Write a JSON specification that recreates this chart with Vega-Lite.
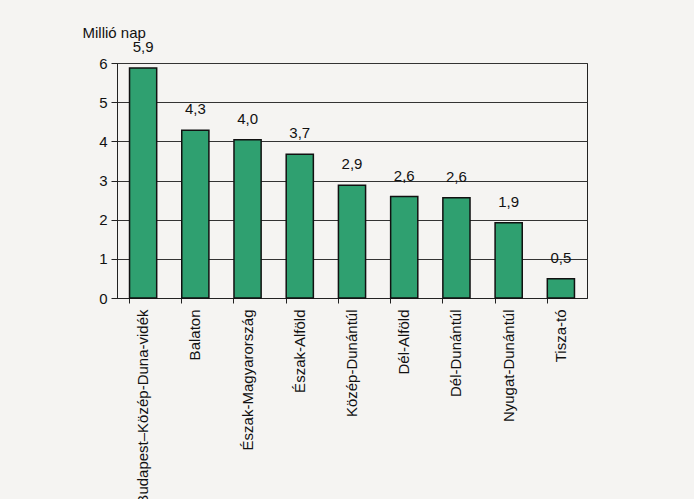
{
  "$schema": "https://vega.github.io/schema/vega-lite/v6.json",
  "autosize": "none",
  "width": 470,
  "height": 235,
  "padding": {"left": 117, "top": 63, "right": 107, "bottom": 201},
  "background": "#f5f4f2",
  "config": {
    "font": "Liberation Sans",
    "view": {"stroke": "#222", "strokeWidth": 1}
  },
  "data": {
    "values": [
      {"region": "Budapest–Közép-Duna-vidék", "value": 5.87, "label": "5,9"},
      {"region": "Balaton", "value": 4.28, "label": "4,3"},
      {"region": "Észak-Magyarország", "value": 4.04, "label": "4,0"},
      {"region": "Észak-Alföld", "value": 3.67, "label": "3,7"},
      {"region": "Közép-Dunántúl", "value": 2.88, "label": "2,9"},
      {"region": "Dél-Alföld", "value": 2.59, "label": "2,6"},
      {"region": "Dél-Dunántúl", "value": 2.56, "label": "2,6"},
      {"region": "Nyugat-Dunántúl", "value": 1.92, "label": "1,9"},
      {"region": "Tisza-tó", "value": 0.49, "label": "0,5"}
    ]
  },
  "encoding": {
    "x": {
      "field": "region",
      "type": "nominal",
      "sort": null,
      "scale": {"paddingInner": 0.48, "paddingOuter": 0.24},
      "axis": {
        "title": null,
        "labelAngle": -90,
        "labelAlign": "right",
        "labelBaseline": "middle",
        "labelFontSize": 15,
        "labelColor": "#111",
        "labelPadding": 6,
        "labelLimit": 300,
        "bandPosition": 0,
        "tickSize": 5,
        "tickColor": "#222",
        "domainColor": "#222",
        "grid": false
      }
    },
    "y": {
      "field": "value",
      "type": "quantitative",
      "scale": {"domain": [0, 6], "nice": false},
      "axis": {
        "title": "Millió nap",
        "titleAngle": 0,
        "titleX": -35,
        "titleY": -26,
        "titleAlign": "left",
        "titleBaseline": "alphabetic",
        "titleFontSize": 15,
        "titleFontWeight": "normal",
        "titleColor": "#111",
        "values": [0, 1, 2, 3, 4, 5, 6],
        "labelFontSize": 15,
        "labelColor": "#111",
        "labelPadding": 4,
        "tickSize": 6,
        "tickColor": "#222",
        "domainColor": "#222",
        "grid": true,
        "gridColor": "#333",
        "gridOpacity": 1
      }
    }
  },
  "layer": [
    {
      "mark": {"type": "bar", "fill": "#2fa070", "stroke": "#111", "strokeWidth": 1.5}
    },
    {
      "mark": {"type": "text", "fontSize": 15, "color": "#111", "baseline": "alphabetic", "dy": -16},
      "encoding": {"text": {"field": "label"}}
    }
  ]
}
